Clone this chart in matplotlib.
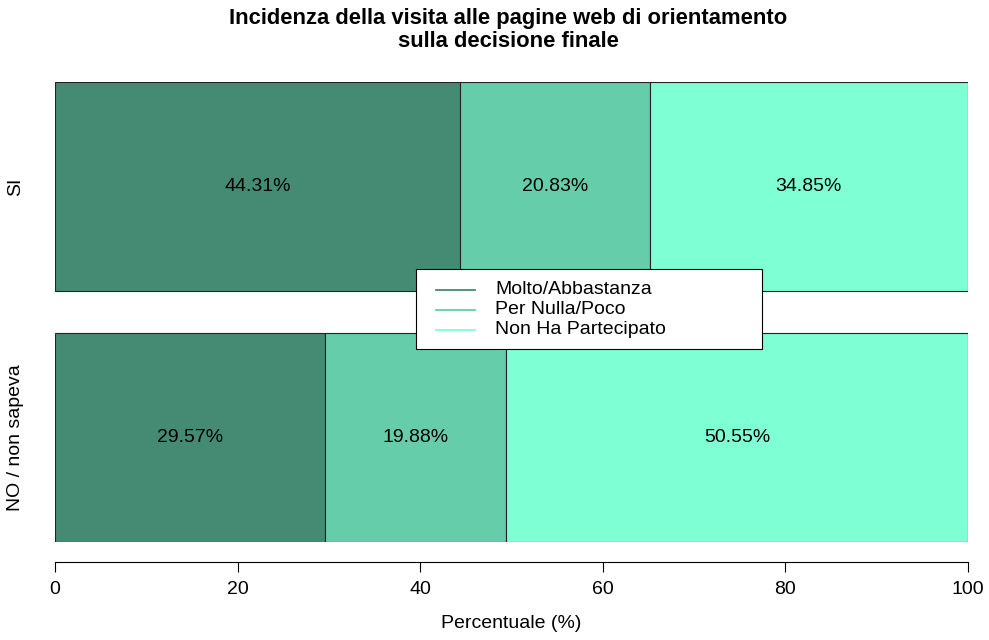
import numpy as np
import matplotlib.pyplot as plt
from matplotlib.patches import Rectangle

plt.rcParams['font.family'] = ['Liberation Sans', 'DejaVu Sans']

groups = ['NO / non sapeva', 'SI']
categories = ['Molto/Abbastanza', 'Per Nulla/Poco', 'Non Ha Partecipato']
values = {
    'NO / non sapeva': [29.57, 19.88, 50.55],
    'SI': [44.31, 20.83, 34.85],
}
colors = ['#458B74', '#66CDAA', '#7FFFD4']
xticks = [0, 20, 40, 60, 80, 100]

W, H = 989, 640
FS = 14
fig = plt.figure(figsize=(W / 100, H / 100), dpi=100)
ax = fig.add_axes([55 / W, 1 - 542 / H, (968 - 55) / W, (542 - 82) / H])

ypos = [0.5, 1.7]
for yi, g in zip(ypos, groups):
    left = 0
    for v, c in zip(values[g], colors):
        ax.barh(yi, v, left=left, height=1.0, color=c, edgecolor='#222222', linewidth=0.8)
        ax.text(left + v / 2, yi, f'{v:.2f}%', ha='center', va='center', fontsize=FS)
        left += v

ax.set_xlim(0, 100)
ax.set_ylim(0, 2.2)
ax.set_yticks(ypos)
ax.set_yticklabels(groups, rotation=90, va='center')
ax.tick_params(axis='y', length=0, pad=22, labelsize=FS)
ax.set_xticks(xticks)
ax.set_xticklabels([str(t) for t in xticks])
ax.tick_params(axis='x', length=7, width=0.8, pad=7, labelsize=FS)
for s in ['top', 'right', 'left']:
    ax.spines[s].set_visible(False)
ax.spines['bottom'].set_position(('outward', 14.4))
ax.spines['bottom'].set_linewidth(0.8)
ax.set_xlabel('Percentuale (%)', fontsize=FS, labelpad=12)

# legend drawn in figure pixels, like R's legend box
def fx(px):
    return px / W

def fy(py):
    return 1 - py / H

fig.patches.append(Rectangle((fx(416), fy(349)), fx(762) - fx(416), fy(269) - fy(349),
                             transform=fig.transFigure, facecolor='white',
                             edgecolor='black', linewidth=0.8, zorder=5))
for i, (lab, c) in enumerate(zip(categories, colors)):
    yy = 290 + 20 * i
    fig.add_artist(plt.Line2D([fx(436), fx(475)], [fy(yy), fy(yy)], color=c, lw=1.3,
                              transform=fig.transFigure, zorder=6))
    fig.text(fx(495), fy(yy), lab, fontsize=FS, ha='left', va='center', zorder=6)

fig.suptitle('Incidenza della visita alle pagine web di orientamento\nsulla decisione finale',
             fontsize=15.8, fontweight='bold', y=1 - 8 / H, va='top', x=508 / W, linespacing=1.15)

fig.savefig('out.png', dpi=100)
